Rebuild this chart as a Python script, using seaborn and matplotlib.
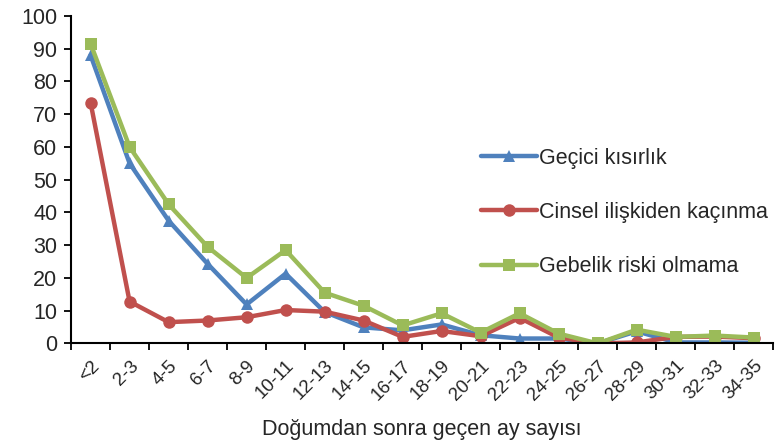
import matplotlib
matplotlib.use("Agg")
import matplotlib.pyplot as plt
import seaborn as sns
import pandas as pd
import numpy as np

months = ["<2", "2-3", "4-5", "6-7", "8-9", "10-11", "12-13", "14-15", "16-17",
          "18-19", "20-21", "22-23", "24-25", "26-27", "28-29", "30-31", "32-33", "34-35"]

gecici = [88, 55, 37.5, 24.3, 11.9, 21.3, 9.6, 4.9, 4, 5.8, 2.5, 1.5, 1.5, 0, 3.7, 0.3, 0.3, 0.2]
cinsel = [73.5, 12.8, 6.5, 7, 8, 10.2, 9.7, 7, 2, 3.8, 2.2, 7.8, 1.8, 0, 0.3, 2, 2.1, 1.6]
gebelik = [91.5, 60, 42.5, 29.5, 20, 28.5, 15.5, 11.5, 5.5, 9.2, 3.3, 9.2, 3, 0, 4.2, 2, 2.4, 1.8]

series = ["Geçici kısırlık", "Cinsel ilişkiden kaçınma", "Gebelik riski olmama"]
colors = ["#4F81BD", "#C0504D", "#9BBB59"]
markers = ["^", "o", "s"]

x = np.arange(len(months))
df = pd.concat([
    pd.DataFrame({"x": x, "value": vals, "seri": name})
    for name, vals in zip(series, [gecici, cinsel, gebelik])
])

sns.set_style("white")
plt.rcParams["font.family"] = ["Liberation Sans", "DejaVu Sans"]

fig, ax = plt.subplots(figsize=(7.81, 4.42), dpi=100)
fig.subplots_adjust(left=0.091, right=0.99, bottom=0.223, top=0.964)

sns.lineplot(data=df, x="x", y="value", hue="seri", style="seri",
             palette=colors, markers=markers, dashes=False,
             linewidth=3.2, markersize=9, markeredgewidth=0, ax=ax)

ax.set_xlim(-0.5, len(months) - 0.5)
ax.set_ylim(0, 100)
ax.set_yticks(range(0, 101, 10))
ax.set_xticks(x)
ax.set_xticklabels(months, rotation=45, ha="right", rotation_mode="anchor")
ax.set_xticks(np.arange(-0.5, len(months), 1), minor=True)
ax.tick_params(axis="x", which="major", length=0, labelsize=13.5, pad=10)
ax.tick_params(axis="x", which="minor", length=5, width=1.3, direction="out", color="black")
ax.tick_params(axis="y", length=5, width=1.3, direction="out", color="black", labelsize=15.5, pad=5)
ax.xaxis.set_ticks_position("bottom")
ax.yaxis.set_ticks_position("left")

for s in ["top", "right"]:
    ax.spines[s].set_visible(False)
for s in ["left", "bottom"]:
    ax.spines[s].set_color("black")
    ax.spines[s].set_linewidth(1.5)

ax.set_xlabel("Doğumdan sonra geçen ay sayısı", fontsize=15.5, labelpad=11)
ax.set_ylabel("")

ax.legend(loc="center left", bbox_to_anchor=(0.556, 0.40), frameon=False,
          fontsize=15.5, labelspacing=1.55, handlelength=2.6, handletextpad=0.1)

fig.savefig("out.png", dpi=100)
